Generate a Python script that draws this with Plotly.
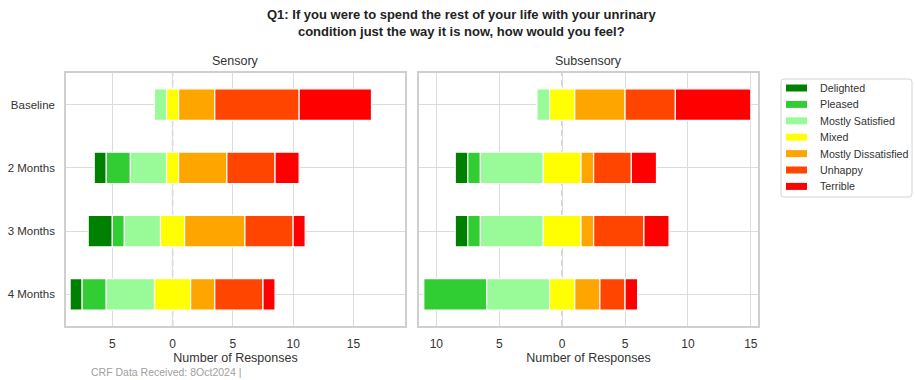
import plotly.graph_objects as go

# Response counts per visit, one list per answer level
timepoints = ["Baseline", "2 Months", "3 Months", "4 Months"]
levels = ["Delighted", "Pleased", "Mostly Satisfied", "Mixed",
          "Mostly Dissatisfied", "Unhappy", "Terrible"]
colors = ["#008000", "#32CD32", "#98FB98", "#FFFF00",
          "#FFA500", "#FF4500", "#FF0000"]

sensory_delighted = [0, 1, 2, 1]
sensory_pleased = [0, 2, 1, 2]
sensory_mostly_satisfied = [1, 3, 3, 4]
sensory_mixed = [1, 1, 2, 3]
sensory_mostly_dissatisfied = [3, 4, 5, 2]
sensory_unhappy = [7, 4, 4, 4]
sensory_terrible = [6, 2, 1, 1]

subsensory_delighted = [0, 1, 1, 0]
subsensory_pleased = [0, 1, 1, 5]
subsensory_mostly_satisfied = [1, 5, 5, 5]
subsensory_mixed = [2, 3, 3, 2]
subsensory_mostly_dissatisfied = [4, 1, 1, 2]
subsensory_unhappy = [4, 3, 4, 2]
subsensory_terrible = [6, 2, 2, 1]

sensory = [sensory_delighted, sensory_pleased, sensory_mostly_satisfied,
           sensory_mixed, sensory_mostly_dissatisfied, sensory_unhappy,
           sensory_terrible]
subsensory = [subsensory_delighted, subsensory_pleased,
              subsensory_mostly_satisfied, subsensory_mixed,
              subsensory_mostly_dissatisfied, subsensory_unhappy,
              subsensory_terrible]

tick_vals = [-10, -5, 0, 5, 10, 15]
tick_text = ["10", "5", "0", "5", "10", "15"]

FONT = "Liberation Sans, Arial, sans-serif"
GRID = "#dcdcdc"
TXT = "#333333"

# page geometry (px) used to place paper-referenced items
ML, MT, MB, FIG_W, FIG_H = 66, 73, 54, 915, 380
W = FIG_W - ML
H = FIG_H - MT - MB


def px_x(px):
    return (px - ML) / W


def px_y(py):
    return (FIG_H - MB - py) / H


fig = go.Figure()


def add_panel(counts, xa, ya):
    n = len(timepoints)
    # diverging layout: the midpoint of "Mixed" sits on zero
    start = [-(counts[0][i] + counts[1][i] + counts[2][i] + counts[3][i] / 2)
             for i in range(n)]
    for lvl, name in enumerate(levels):
        vals = counts[lvl]
        fig.add_trace(go.Bar(
            y=timepoints, x=vals, base=list(start), orientation="h",
            name=name, marker=dict(color=colors[lvl],
                                   line=dict(color="white", width=1.2)),
            width=0.5, showlegend=False, xaxis=xa, yaxis=ya,
        ))
        start = [start[i] + vals[i] for i in range(n)]


add_panel(sensory, "x", "y")
add_panel(subsensory, "x2", "y2")

axis_common = dict(
    showgrid=True, gridcolor=GRID, gridwidth=1.3,
    showline=True, linecolor="#cfcfcf", linewidth=1.5, mirror=True,
    zeroline=False, ticks="outside", tickcolor="rgba(0,0,0,0)",
    automargin=False,
)
xaxis_extra = dict(
    tickvals=tick_vals, ticktext=tick_text, ticklen=6,
    tickfont=dict(family=FONT, size=12, color=TXT),
    title=dict(text="Number of Responses",
               font=dict(family=FONT, size=12.5, color=TXT), standoff=2),
)
yaxis_extra = dict(range=[3.5, -0.5], categoryorder="array",
                   categoryarray=timepoints, ticklen=7,
                   tickfont=dict(family=FONT, size=11.5, color=TXT))

fig.update_layout(
    xaxis=dict(**axis_common, **xaxis_extra,
               domain=[px_x(66), px_x(405)], range=[-8.84, 19.28], anchor="y"),
    xaxis2=dict(**axis_common, **xaxis_extra,
                domain=[px_x(419), px_x(758)], range=[-11.38, 15.57],
                anchor="y2"),
    yaxis=dict(**axis_common, **yaxis_extra, anchor="x"),
    yaxis2=dict(**axis_common, **yaxis_extra, anchor="x2",
                showticklabels=False),
)

shapes = []
for xr, yr in [("x", "y"), ("x2", "y2")]:
    shapes.append(dict(type="line", xref=xr, yref=yr + " domain",
                       x0=0, x1=0, y0=0, y1=1, layer="below",
                       line=dict(color="#a8a8a8", width=1.3,
                                 dash="6px,4px")))

# legend box with rounded corners
bx0, bx1, by0, by1, r = 781, 912, 79, 197, 3
rx, ry = r / W, r / H
X0, X1, Y0, Y1 = px_x(bx0), px_x(bx1), px_y(by1), px_y(by0)
path = (f"M {X0 + rx},{Y1} L {X1 - rx},{Y1} Q {X1},{Y1} {X1},{Y1 - ry} "
        f"L {X1},{Y0 + ry} Q {X1},{Y0} {X1 - rx},{Y0} "
        f"L {X0 + rx},{Y0} Q {X0},{Y0} {X0},{Y0 + ry} "
        f"L {X0},{Y1 - ry} Q {X0},{Y1} {X0 + rx},{Y1} Z")
shapes.append(dict(type="path", xref="paper", yref="paper", path=path,
                   line=dict(color="#d4d4d4", width=1), fillcolor="white"))

annots = []
for i, (name, col) in enumerate(zip(levels, colors)):
    yc = 88 + 16.4 * i
    shapes.append(dict(type="rect", xref="paper", yref="paper",
                       x0=px_x(786), x1=px_x(807),
                       y0=px_y(yc + 3.5), y1=px_y(yc - 3.5),
                       fillcolor=col, line=dict(width=0)))
    annots.append(dict(text=name, x=px_x(818), y=px_y(yc), xref="paper",
                       yref="paper", xanchor="left", yanchor="middle",
                       showarrow=False,
                       font=dict(family=FONT, size=10.7, color=TXT)))

annots += [
    dict(text="<b>Q1: If you were to spend the rest of your life with your unrinary<br>"
              "condition just the way it is now, how would you feel?</b>",
         x=px_x(461), y=px_y(23), xref="paper", yref="paper",
         xanchor="center", yanchor="middle", showarrow=False,
         font=dict(family=FONT, size=13, color="#222222")),
    dict(text="Sensory", x=px_x(235.5), y=1.0, xref="paper", yref="paper",
         xanchor="center", yanchor="bottom", yshift=3, showarrow=False,
         font=dict(family=FONT, size=12.5, color=TXT)),
    dict(text="Subsensory", x=px_x(588.5), y=1.0, xref="paper", yref="paper",
         xanchor="center", yanchor="bottom", yshift=3, showarrow=False,
         font=dict(family=FONT, size=12.5, color=TXT)),
    dict(text="CRF Data Received: 8Oct2024 |", x=px_x(89), y=px_y(372),
         xref="paper", yref="paper", xanchor="left", yanchor="middle",
         showarrow=False, font=dict(family=FONT, size=10.5, color="#a0a0a0")),
]

fig.update_layout(
    width=FIG_W, height=FIG_H, barmode="overlay",
    margin=dict(l=ML, r=0, t=MT, b=MB),
    plot_bgcolor="white", paper_bgcolor="white",
    annotations=annots, shapes=shapes, showlegend=False,
    font=dict(family=FONT),
)

fig.write_html("out.html")
